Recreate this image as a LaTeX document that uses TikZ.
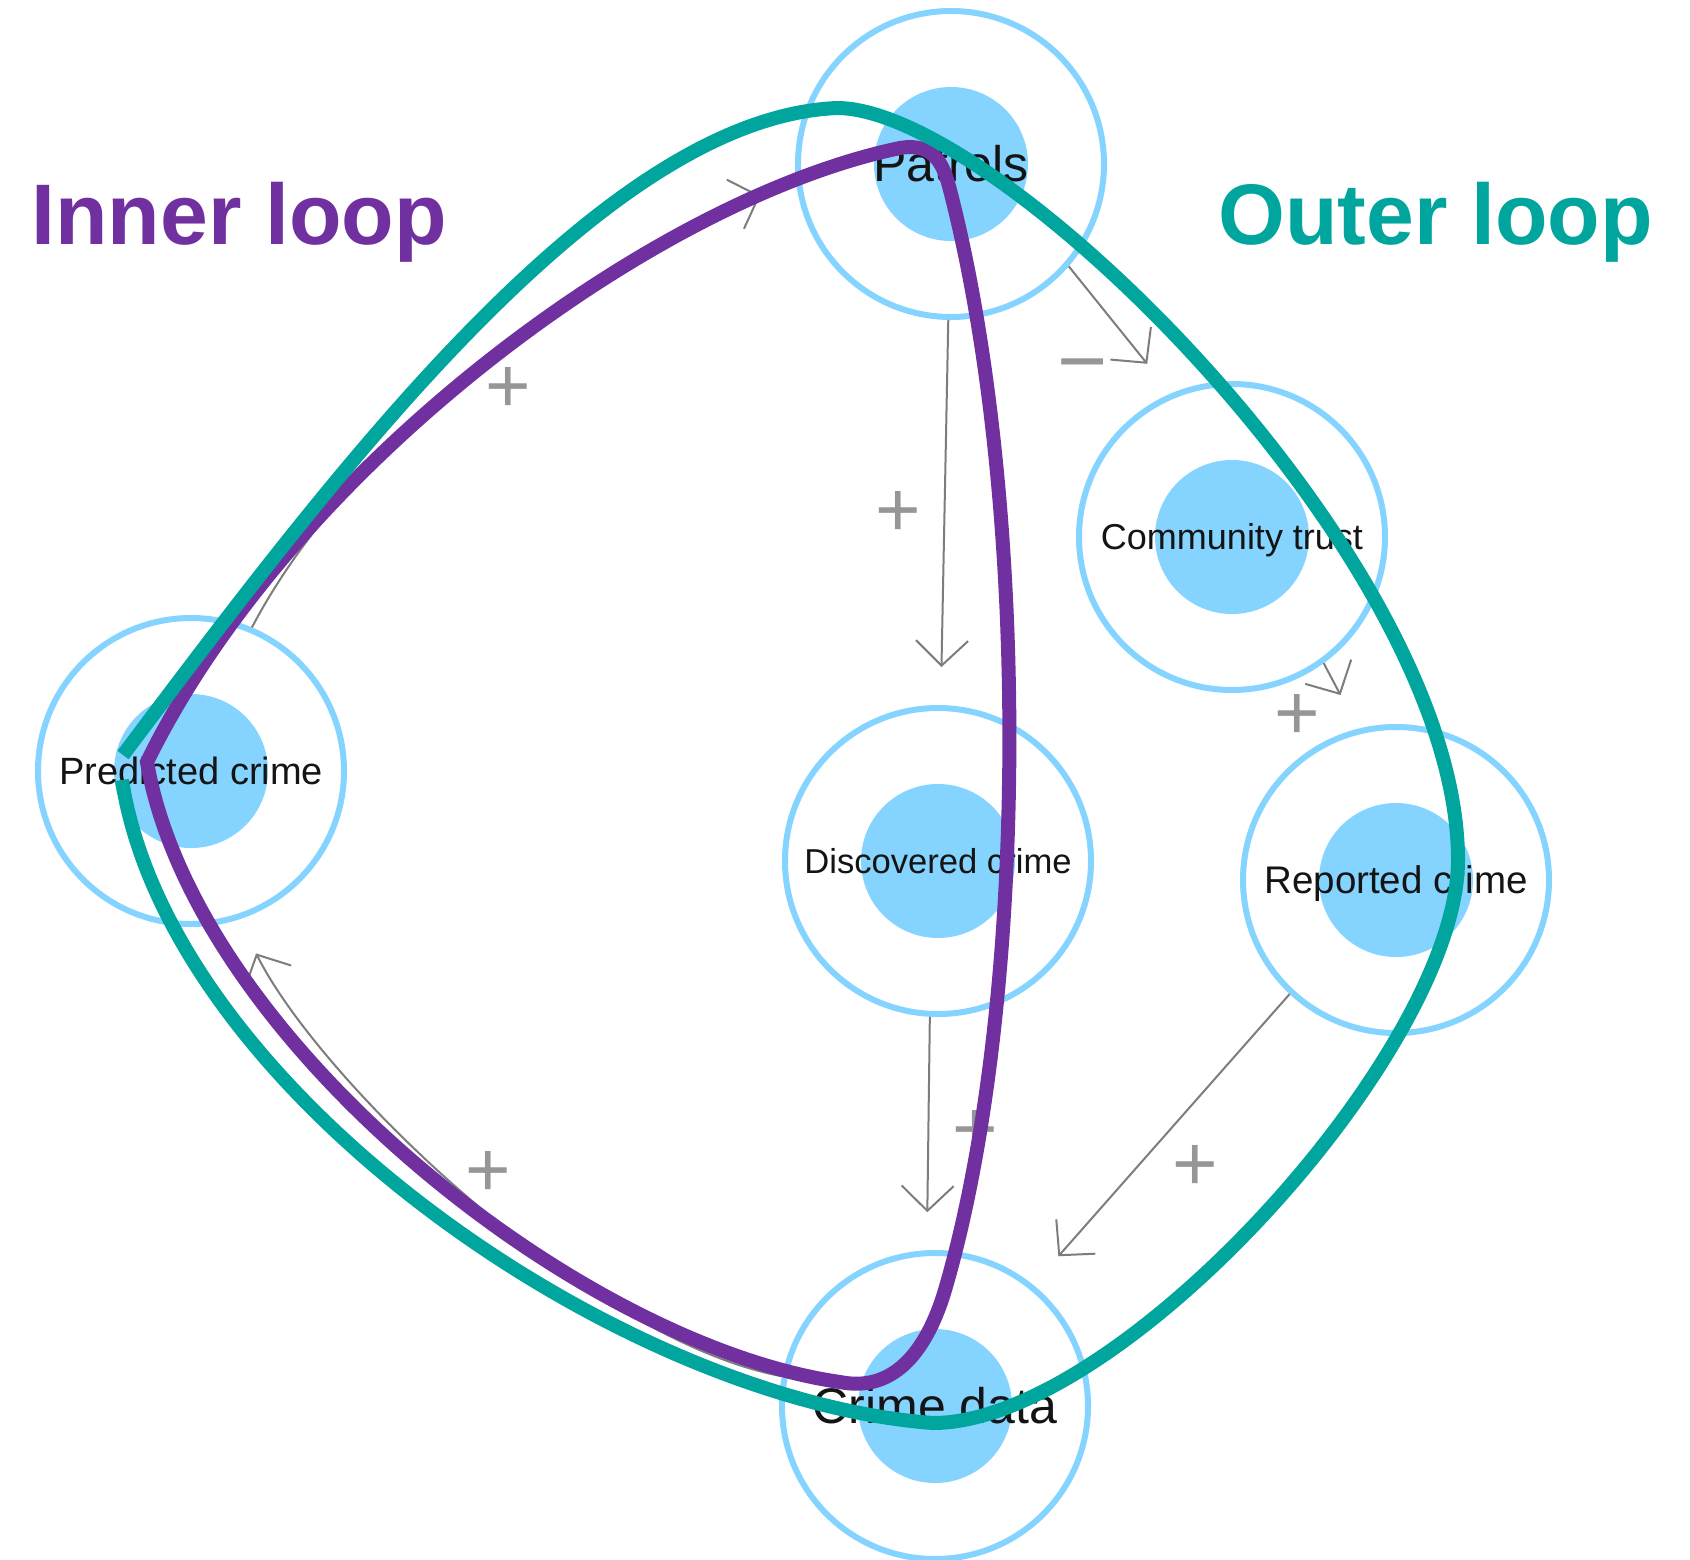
\documentclass[tikz,border=0pt]{standalone}
\usepackage{fontspec}
\setmainfont{Liberation Sans}
\usetikzlibrary{arrows.meta}
\definecolor{nodeblue}{RGB}{132,212,255}
\definecolor{innerpurple}{RGB}{112,48,160}
\definecolor{outerteal}{RGB}{0,166,157}
\definecolor{linkgray}{RGB}{125,125,125}
\definecolor{signgray}{RGB}{150,150,150}
\begin{document}
\begin{tikzpicture}[x=1pt,y=-1pt,
  concept/.style={circle, draw=nodeblue, line width=6pt, minimum size=306pt, inner sep=0pt, text depth=0pt, text=black!92},
  core/.style={fill=nodeblue},
  link/.style={draw=linkgray, line width=2pt, -{Straight Barb[length=25pt,width=52pt]}, shorten >=38pt},
  sign/.style={text=signgray, inner sep=0pt, text depth=0pt},
  loopline/.style={line width=14pt},
  title/.style={font=\fontsize{86}{90}\selectfont\bfseries, inner sep=0pt, anchor=base west}
]
\fill[white] (0,0) rectangle (1690,1559);
\useasboundingbox (0,0) rectangle (1690,1559);

% cores
\fill[core] (951,164) circle[radius=77];
\fill[core] (1232,537) circle[radius=77];
\fill[core] (191,771) circle[radius=77];
\fill[core] (938,861) circle[radius=77];
\fill[core] (1396,880) circle[radius=77];
\fill[core] (935,1406) circle[radius=77];

% nodes
\node[concept, font=\fontsize{50}{60}\selectfont, text height=35.8pt] (patrols) at (951,164) {Patrols};
\node[concept, font=\fontsize{36}{44}\selectfont, text height=25.8pt] (community) at (1232,537) {Community trust};
\node[concept, font=\fontsize{38}{46}\selectfont, text height=27.2pt] (pred) at (191,771) {Predicted crime};
\node[concept, font=\fontsize{34.6}{42}\selectfont, text height=24.8pt] (discovered) at (938,861) {Discovered crime};
\node[concept, font=\fontsize{38.5}{46}\selectfont, text height=27.6pt] (reported) at (1396,880) {Reported crime};
\node[concept, font=\fontsize{50}{60}\selectfont, text height=35.8pt] (crimedata) at (935,1406) {Crime data};

% links
\draw[link] (pred.67.6) .. controls (350,440) and (590,255) .. (patrols.187.3);
\draw[link] (patrols.-41.6) -- (community.113.8);
\draw[link] (patrols.-91) -- (discovered.89);
\draw[link] (community.-54.9) -- (reported.104.8);
\draw[link] (discovered.-93) -- (crimedata.93);
\draw[link] (reported.-133.2) -- (crimedata.51.7);
\draw[link] (crimedata.169.3) .. controls (586,1339) and (319,1080) .. (pred.-72.5);

% polarity signs
\node[sign, font=\fontsize{78}{80}\selectfont, text height=55pt] (s1) at (508,385) {+};
\node[sign, font=\fontsize{86}{90}\selectfont, text height=60.7pt] (s2) at (1083,360) {−};
\node[sign, font=\fontsize{78}{80}\selectfont, text height=55pt] (s3) at (898,509) {+};
\node[sign, font=\fontsize{78}{80}\selectfont, text height=55pt] (s4) at (1297,712) {+};
\node[sign, font=\fontsize{78}{80}\selectfont, text height=55pt] (s5) at (975,1128) {+};
\node[sign, font=\fontsize{78}{80}\selectfont, text height=55pt] (s6) at (1195,1163) {+};
\node[sign, font=\fontsize{78}{80}\selectfont, text height=55pt] (s7) at (488,1169) {+};

% inner loop
\draw[loopline, draw=innerpurple, line join=miter]
  (147,762) .. controls (290,470) and (650,200) .. (900,148)
  .. controls (935,142) and (944,166) .. (950,190)
  .. controls (1030,500) and (1030,1000) .. (945,1290)
  .. controls (925,1357) and (890,1392) .. (840,1382)
  .. controls (580,1345) and (195,1040) .. cycle;

% outer loop
\draw[loopline, draw=outerteal]
  (123,755) .. controls (330,480) and (600,118) .. (837,108)
  .. controls (1000,108) and (1458,560) .. (1458,860)
  .. controls (1458,1050) and (1120,1423) .. (933,1423)
  .. controls (620,1400) and (170,1090) .. (122,780);

% titles
\node[title, text=innerpurple] (innertitle) at (31,244) {Inner loop};
\node[title, text=outerteal] (outertitle) at (1218,244) {Outer loop};
\end{tikzpicture}
\end{document}
